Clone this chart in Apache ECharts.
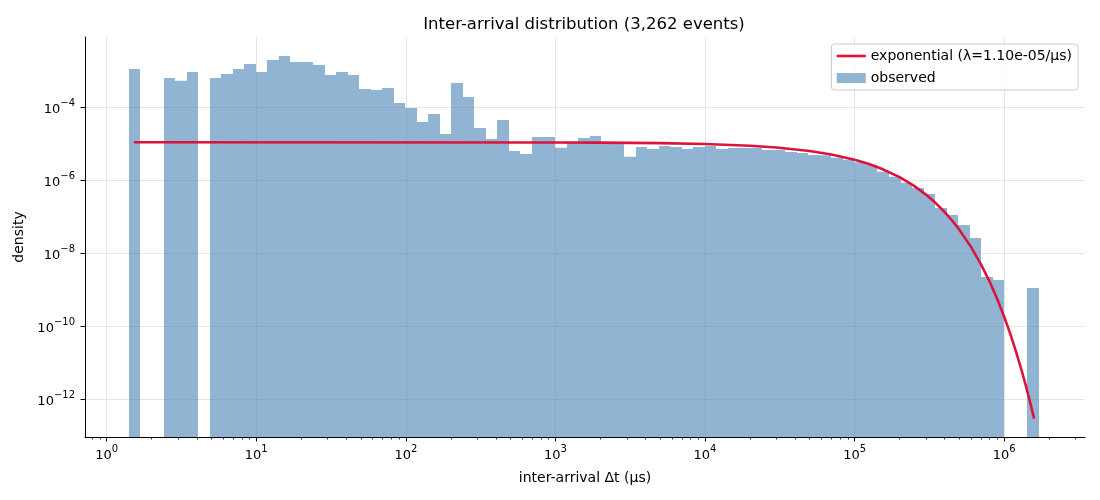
<!DOCTYPE html>
<html>
<head>
<meta charset="utf-8">
<script src="https://cdn.jsdelivr.net/npm/echarts@6/dist/echarts.min.js"></script>
<style>
  html, body { margin: 0; padding: 0; background: #fff; }
  #chart { width: 1100px; height: 500px; }
</style>
</head>
<body>
<div id="chart"></div>
<script>
// histogram bin edges (µs), log-spaced, 79 bins
const binEdges = [
  1.41, 1.68, 2.01, 2.40, 2.86, 3.42, 4.08, 4.88, 5.82, 6.95,
  8.30, 9.91, 11.8, 14.1, 16.9, 20.1, 24.0, 28.7, 34.3, 40.9,
  48.8, 58.2, 69.5, 83.0, 99.1, 118, 141, 169, 201, 240,
  287, 343, 409, 489, 583, 697, 832, 993, 1186, 1416,
  1690, 2018, 2410, 2877, 3436, 4102, 4898, 5848, 6982, 8337,
  9954, 11885, 14191, 16943, 20230, 24155, 28840, 34435, 41115, 49091,
  58614, 69984, 83560, 99770, 119124, 142233, 169824, 202768, 242103, 289068,
  345144, 412098, 492040, 587489, 701455, 837529, 1000000, 1193988, 1425620, 1702172
];
// observed density per bin (0 = empty bin)
const density = [
  1.12e-3, 0, 0, 6.35e-4, 5.37e-4, 9.27e-4, 0, 6.35e-4, 8.17e-4, 1.12e-3,
  1.53e-3, 9.27e-4, 1.98e-3, 2.54e-3, 1.74e-3, 1.74e-3, 1.44e-3, 7.67e-4, 9.27e-4, 7.67e-4,
  3.17e-4, 2.98e-4, 3.38e-4, 1.31e-4, 9.57e-5, 3.95e-5, 6.55e-5, 1.85e-5, 4.63e-4, 1.91e-4,
  2.71e-5, 1.36e-5, 4.49e-5, 6.35e-6, 5.26e-6, 1.53e-5, 1.53e-5, 7.83e-6, 1.05e-5, 1.44e-5,
  1.64e-5, 1.12e-5, 1.12e-5, 4.44e-6, 8.17e-6, 7.19e-6, 8.71e-6, 8.17e-6, 7.19e-6, 8.17e-6,
  8.71e-6, 7.19e-6, 7.67e-6, 7.67e-6, 7.67e-6, 6.76e-6, 6.76e-6, 5.96e-6, 5.60e-6, 4.93e-6,
  4.83e-6, 4.17e-6, 3.67e-6, 3.10e-6, 2.68e-6, 1.72e-6, 1.26e-6, 8.61e-7, 6.15e-7, 4.22e-7,
  1.74e-7, 1.12e-7, 5.96e-8, 2.62e-8, 2.24e-9, 1.85e-9, 0, 0, 1.12e-9
];
// fitted exponential curve
const fitX = [1.52, 1e3, 2e3, 5e3, 1e4, 2e4, 3e4, 5e4, 7e4, 1e5, 1.25e5, 1.5e5, 2e5, 2.5e5, 3e5,
  3.5e5, 4e5, 4.5e5, 5e5, 6e5, 7e5, 8e5, 9e5, 1e6, 1.1e6, 1.2e6, 1.3e6, 1.4e6, 1.5e6, 1.585e6];
const fitY = [1.10e-5, 1.088e-5, 1.076e-5, 1.041e-5, 9.86e-6, 8.83e-6, 7.91e-6, 6.35e-6, 5.09e-6, 3.66e-6,
  2.78e-6, 2.11e-6, 1.22e-6, 7.03e-7, 4.06e-7, 2.34e-7, 1.35e-7, 7.79e-8, 4.50e-8, 1.50e-8,
  4.99e-9, 1.66e-9, 5.52e-10, 1.84e-10, 6.11e-11, 2.03e-11, 6.76e-12, 2.25e-12, 7.51e-13, 2.95e-13];

const xTicks = [1, 10, 100, 1e3, 1e4, 1e5, 1e6];
const yTicks = [1e-12, 1e-10, 1e-8, 1e-6, 1e-4];
const xRange = [0.716, 3.47e6];
const yRange = [9.27e-14, 8.43e-3];

const FIT_NAME = 'exponential (λ=1.10e-05/µs)';
const BAR_COLOR = 'rgba(70,130,180,0.6)';
const FONT = 'DejaVu Sans';

const lg = Math.log10;
const xMinLog = lg(xRange[0]), xMaxLog = lg(xRange[1]);
const yMinLog = lg(yRange[0]), yMaxLog = lg(yRange[1]);

const minorTicks = [];
for (let e = -1; e <= 6; e++) {
  for (let k = 2; k <= 9; k++) {
    const v = lg(k) + e;
    if (v > xMinLog && v < xMaxLog) minorTicks.push(v);
  }
}

const bars = [];
density.forEach((d, i) => {
  if (d > 0) bars.push([lg(binEdges[i]), lg(binEdges[i + 1]), lg(d)]);
});
const fitLine = fitX.map((x, i) => [lg(x), lg(fitY[i])]);

const powLabel = v => {
  const e = Math.round(v);
  return '{b|10}{s|' + (e < 0 ? '\u2212' + (-e) : e) + '}';
};
const richPow = {
  b: { fontFamily: FONT, fontSize: 13, color: '#000', verticalAlign: 'bottom', padding: [5, 0, 0, 0] },
  s: { fontFamily: FONT, fontSize: 10, color: '#000', verticalAlign: 'top' }
};

const chart = echarts.init(document.getElementById('chart'), null, { renderer: 'canvas' });
chart.setOption({
  animation: false,
  backgroundColor: '#fff',
  title: {
    text: 'Inter-arrival distribution (3,262 events)',
    left: 579, top: 11, textAlign: 'center',
    textStyle: { fontFamily: FONT, fontSize: 16.5, fontWeight: 'normal', color: '#000' }
  },
  legend: {
    orient: 'vertical', right: 22, top: 44,
    padding: [5, 6, 5, 4], itemGap: 8, itemWidth: 29, itemHeight: 10,
    backgroundColor: 'rgba(255,255,255,0.8)', borderColor: '#ccc', borderWidth: 1, borderRadius: 3,
    textStyle: { fontFamily: FONT, fontSize: 14, color: '#000' },
    data: [
      { name: FIT_NAME, itemStyle: { opacity: 0 }, lineStyle: { width: 2.6 } },
      { name: 'observed', icon: 'rect' }
    ]
  },
  grid: { left: 85, right: 15, top: 37, bottom: 63 },
  xAxis: [{
    type: 'value', min: xMinLog, max: xMaxLog,
    name: 'inter-arrival Δt (µs)', nameLocation: 'middle', nameGap: 34,
    nameTextStyle: { fontFamily: FONT, fontSize: 14, color: '#000' },
    axisLine: { onZero: false, lineStyle: { color: '#000', width: 1 } },
    axisTick: { customValues: xTicks.map(lg), length: 4.5, lineStyle: { color: '#000' } },
    axisLabel: { customValues: xTicks.map(lg), margin: 7, formatter: powLabel, rich: richPow },
    splitLine: { show: true, lineStyle: { color: '#e6e6e6', width: 1 } }
  }, {
    type: 'value', min: xMinLog, max: xMaxLog, position: 'bottom',
    axisLine: { show: false, onZero: false },
    axisTick: { customValues: minorTicks, length: 2.5, lineStyle: { color: '#000', width: 0.8 } },
    axisLabel: { show: false },
    splitLine: { show: false }
  }],
  yAxis: {
    type: 'value', min: yMinLog, max: yMaxLog,
    name: 'density', nameLocation: 'middle', nameGap: 55,
    nameTextStyle: { fontFamily: FONT, fontSize: 14, color: '#000' },
    axisLine: { show: true, onZero: false, lineStyle: { color: '#000', width: 1 } },
    axisTick: { show: true, customValues: yTicks.map(lg), length: 4.5, lineStyle: { color: '#000' } },
    axisLabel: { customValues: yTicks.map(lg), margin: 10, formatter: powLabel, rich: richPow },
    splitLine: { show: true, lineStyle: { color: '#e6e6e6', width: 1 } }
  },
  series: [{
    name: FIT_NAME, type: 'line', data: fitLine, z: 5,
    symbol: 'none', smooth: false,
    lineStyle: { color: '#dc143c', width: 2.6 }, itemStyle: { color: '#dc143c' }
  }, {
    name: 'observed', type: 'custom', data: bars, z: 2,
    itemStyle: { color: BAR_COLOR },
    encode: { x: [0, 1], y: 2 },
    renderItem: (params, api) => {
      const top = api.coord([api.value(0), api.value(2)]);
      const right = api.coord([api.value(1), yMinLog]);
      const x0 = Math.round(top[0]), x1 = Math.round(right[0]);
      return {
        type: 'rect',
        shape: { x: x0, y: top[1], width: x1 - x0, height: right[1] - top[1] },
        style: { fill: BAR_COLOR }
      };
    }
  }]
});
</script>
</body>
</html>
